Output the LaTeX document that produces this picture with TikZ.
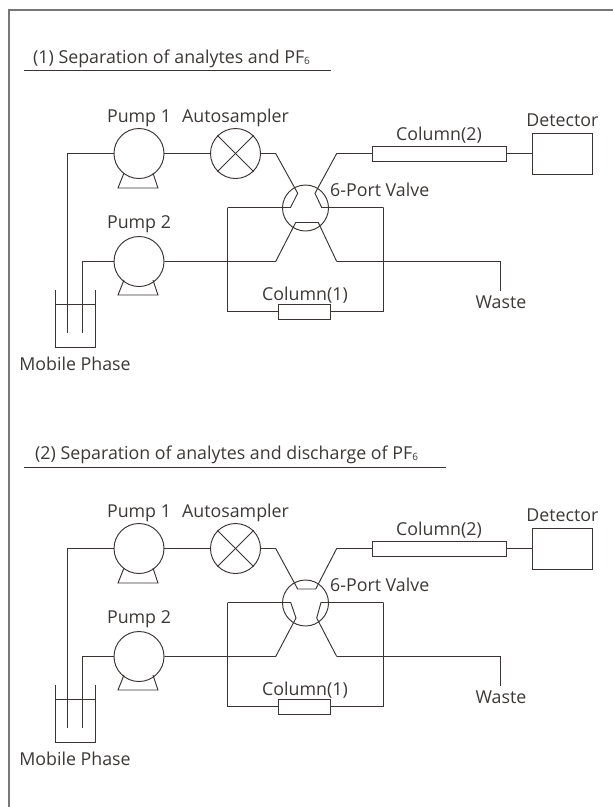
\documentclass[tikz,border=0pt]{standalone}
\usepackage{fontspec}
\setmainfont{Open Sans}
\definecolor{pipe}{HTML}{3A3532}
\definecolor{frame}{HTML}{777777}
\definecolor{label}{HTML}{3C3836}
\tikzset{
	pipeline/.style={draw=pipe, line width=0.95pt},
	round unit/.style={circle, draw=pipe, line width=0.95pt, minimum size=50pt, inner sep=0pt},
	box unit/.style={rectangle, draw=pipe, line width=0.95pt, inner sep=0pt},
	tag/.style={text=label, font=\fontsize{17.8}{20}\selectfont, inner sep=0pt, anchor=base},
}
\newcommand{\subsix}{\raisebox{-0.15ex}{\fontsize{10}{10}\selectfont 6}}
\begin{document}
\begin{tikzpicture}[x=1pt, y=-1pt, >=stealth]
	\useasboundingbox (0,0) rectangle (613,807);
	\coordinate (frameA) at (613,10);
	\coordinate (frameB) at (9,10);
	\coordinate (frameC) at (9,807);
	\draw[frame, line width=1.3pt] (frameA) -- (frameB) -- (frameC);
	% both panels share everything but the valve
	\foreach \p/\dy in {a/0, b/395}{
		\begin{scope}[yshift=-\dy pt, name prefix=\p-]
			\node[round unit] (pump1) at (139,153.5) {};
			\node[round unit] (pump2) at (139,261.5) {};
			\node[round unit] (auto) at (235.5,153.5) {};
			\node[round unit, minimum size=46pt] (valve) at (305.5,208) {};
			\node[box unit, minimum width=52pt, minimum height=15pt] (col1) at (304.7,311.5) {};
			\node[box unit, minimum width=133.7pt, minimum height=15pt] (col2) at (439.2,153.5) {};
			\node[box unit, minimum width=59.6pt, minimum height=41pt] (det) at (562.5,153.5) {};
			\draw[pipeline] (auto.45) -- (auto.225);
			\draw[pipeline] (auto.135) -- (auto.315);
			% pump feet
			\draw[pipeline] (124,173) -- (118,188) -- (158,188) -- (153,173);
			\draw[pipeline] (124,280) -- (118,295) -- (158,295) -- (153,280);
			% mobile phase bottle
			\draw[pipeline] (55.7,290) -- (55.7,347.5) -- (95.3,347.5) -- (95.3,290);
			\draw[pipeline] (55.7,304.5) -- (95.3,304.5);
			% fixed bends of the lines
			\coordinate (in1) at (67.5,332.7);
			\coordinate (in2) at (82.5,332.7);
			\coordinate (bend1) at (67.5,153.5);
			\coordinate (bend2) at (82.5,261.5);
			\coordinate (autoOut) at (275.7,153.5);
			\coordinate (colOut) at (336.7,153.5);
			\coordinate (pumpOut) at (275.7,261.5);
			\coordinate (wasteOut) at (336.7,261.5);
			\coordinate (wasteBend) at (500.5,261.5);
			\coordinate (wasteEnd) at (500.5,291);
			\coordinate (loopL) at (227.5,207.5);
			\coordinate (loopR) at (383.5,207.5);
			\coordinate (loopLB) at (227.5,311.5);
			\coordinate (loopRB) at (383.5,311.5);
			\draw[pipeline] (in1) -- (bend1) -- (pump1.west);
			\draw[pipeline] (in2) -- (bend2) -- (pump2.west);
			\draw[pipeline] (pump1.east) -- (auto.west);
			\draw[pipeline] (col2.east) -- (det.west);
			\draw[pipeline] (wasteOut) -- (wasteBend) -- (wasteEnd);
			\draw[pipeline] (loopL) -- (loopLB) -- (col1.west);
			\draw[pipeline] (col1.east) -- (loopRB) -- (loopR);
			\node[tag] (lpump1) at (139,122.3) {Pump 1};
			\node[tag] (lauto) at (235.5,122.3) {Autosampler};
			\node[tag] (lpump2) at (139,228.3) {Pump 2};
			\node[tag] (lphase) at (75,370) {Mobile Phase};
			\node[tag] (lcol1) at (305,300) {Column(1)};
			\node[tag] (lcol2) at (439,140.7) {Column(2)};
			\node[tag] (ldet) at (562.3,126.7) {Detector};
			\node[tag] (lwaste) at (501,308.3) {Waste};
			\node[tag, anchor=base west] (lvalve) at (330,196.7) {6-Port Valve};
		\end{scope}
	}
	% headings
	\node[tag, anchor=base west] (head1) at (33,63.3) {(1) Separation of analytes and PF\subsix};
	\node[tag, anchor=base west] (head2) at (35,459.3) {(2) Separation of analytes and discharge of PF\subsix};
	\coordinate (rule1a) at (24.3,70.5);
	\coordinate (rule1b) at (330.7,70.5);
	\coordinate (rule2a) at (24.3,467.5);
	\coordinate (rule2b) at (445.7,467.5);
	\draw[pipeline] (rule1a) -- (rule1b);
	\draw[pipeline] (rule2a) -- (rule2b);
	% valve position 1
	\coordinate (a-p1) at (297.7,193.3);
	\coordinate (a-p2) at (290.5,207.5);
	\coordinate (a-p3) at (315,193.3);
	\coordinate (a-p4) at (321.7,207.5);
	\coordinate (a-p5) at (295.7,222.5);
	\coordinate (a-p6) at (318.3,222.5);
	\draw[pipeline] (a-auto.east) -- (a-autoOut) -- (a-p1) -- (a-p2) -- (a-loopL);
	\draw[pipeline] (a-col2.west) -- (a-colOut) -- (a-p3) -- (a-p4) -- (a-loopR);
	\draw[pipeline] (a-pump2.east) -- (a-pumpOut) -- (a-p5) -- (a-p6) -- (a-wasteOut);
	% valve position 2
	\coordinate (b-p1) at (297.7,589);
	\coordinate (b-p2) at (315.7,589);
	\coordinate (b-p3) at (290.7,602.5);
	\coordinate (b-p4) at (296,618);
	\coordinate (b-p5) at (321,602.5);
	\coordinate (b-p6) at (316.7,618);
	\draw[pipeline] (b-auto.east) -- (b-autoOut) -- (b-p1) -- (b-p2) -- (b-colOut) -- (b-col2.west);
	\draw[pipeline] (b-loopL) -- (b-p3) -- (b-p4) -- (b-pumpOut) -- (b-pump2.east);
	\draw[pipeline] (b-loopR) -- (b-p5) -- (b-p6) -- (b-wasteOut);
\end{tikzpicture}
\end{document}
